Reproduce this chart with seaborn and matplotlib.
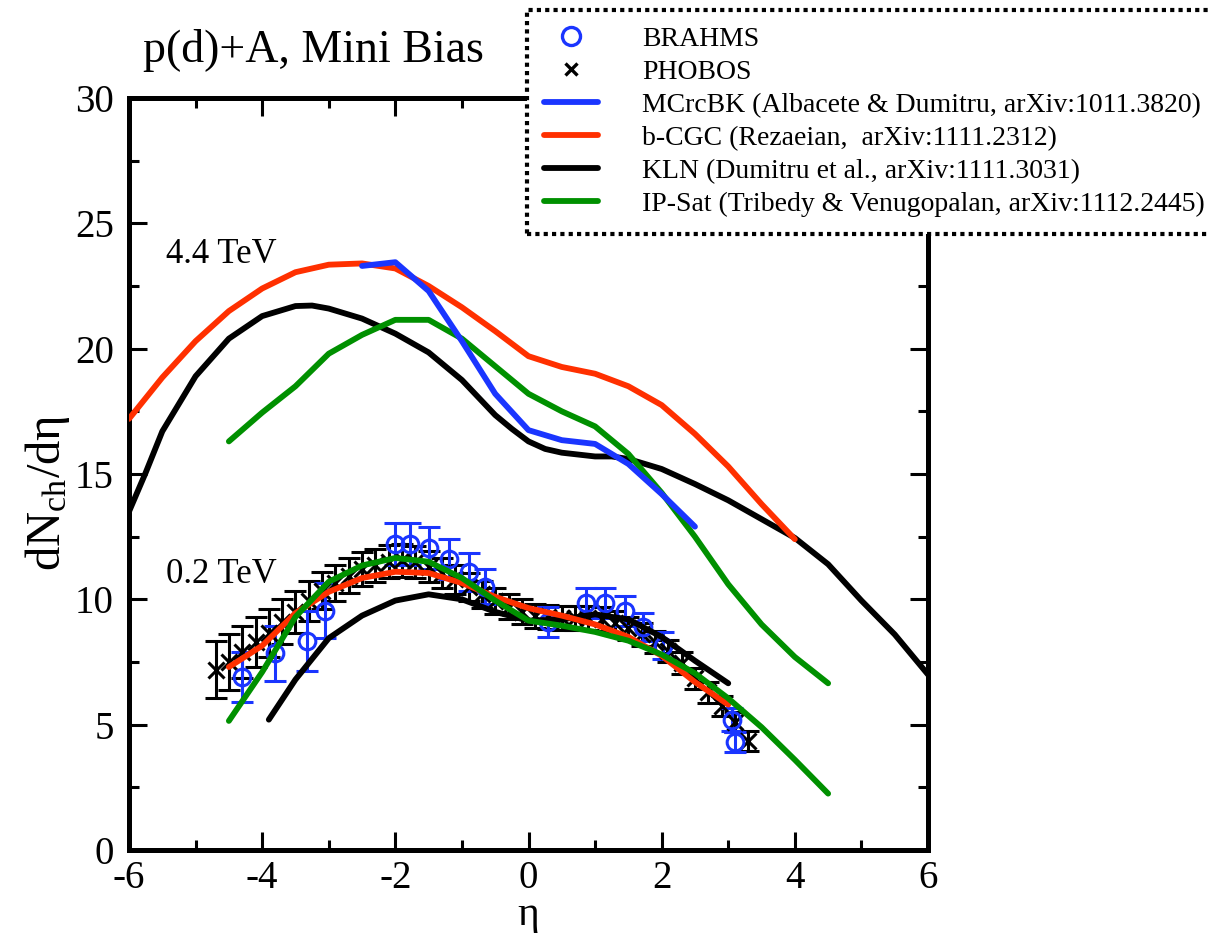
import numpy as np
import pandas as pd
import seaborn as sns
import matplotlib
matplotlib.use("Agg")
import matplotlib.pyplot as plt
from matplotlib.ticker import MultipleLocator
from matplotlib.lines import Line2D

# ---------------- data ----------------
# 4.4 TeV curves
eta_mcrcbk_44 = [-2.5, -2.0, -1.5, -1.0, -0.5, 0.0, 0.5, 1.0, 1.5, 2.0, 2.5]
val_mcrcbk_44 = [23.3, 23.45, 22.3, 20.3, 18.2, 16.75, 16.35, 16.2, 15.4, 14.2, 12.9]

eta_bcgc_44 = [-6.0, -5.5, -5.0, -4.5, -4.0, -3.5, -3.0, -2.5, -2.0, -1.5, -1.0,
               -0.5, 0.0, 0.5, 1.0, 1.5, 2.0, 2.5, 3.0, 3.5, 4.0]
val_bcgc_44 = [17.2, 18.85, 20.3, 21.5, 22.4, 23.05, 23.35, 23.4, 23.2, 22.5, 21.65,
               20.7, 19.7, 19.27, 19.0, 18.5, 17.75, 16.6, 15.3, 13.8, 12.4]

eta_kln_44 = [-6.0, -5.75, -5.5, -5.0, -4.5, -4.0, -3.5, -3.25, -3.0, -2.5, -2.0,
              -1.5, -1.0, -0.5, -0.25, 0.0, 0.25, 0.5, 1.0, 1.25, 1.5, 2.0, 2.5,
              3.0, 3.5, 4.0, 4.5, 5.0, 5.5, 6.0]
val_kln_44 = [13.5, 15.05, 16.7, 18.9, 20.4, 21.3, 21.7, 21.72, 21.6, 21.2, 20.6,
              19.85, 18.75, 17.35, 16.8, 16.3, 16.0, 15.85, 15.7, 15.7, 15.6, 15.2, 14.6,
              13.95, 13.2, 12.45, 11.4, 9.95, 8.6, 7.0]

eta_ipsat_44 = [-4.5, -4.0, -3.5, -3.0, -2.5, -2.0, -1.5, -1.0, -0.5, 0.0, 0.5,
                1.0, 1.5, 2.0, 2.5, 3.0, 3.5, 4.0, 4.5]
val_ipsat_44 = [16.3, 17.45, 18.5, 19.8, 20.55, 21.15, 21.15, 20.4, 19.3, 18.2, 17.5,
                16.9, 15.8, 14.25, 12.5, 10.6, 9.0, 7.7, 6.65]

# 0.2 TeV curves
eta_bcgc_02 = [-4.5, -4.0, -3.5, -3.0, -2.5, -2.0, -1.5, -1.0, -0.5, 0.0, 0.5,
               1.0, 1.5, 2.0, 2.5, 3.0]
val_bcgc_02 = [7.3, 8.15, 9.45, 10.3, 10.85, 11.1, 11.05, 10.65, 10.1, 9.65, 9.35,
               9.0, 8.5, 7.75, 6.7, 5.8]

eta_kln_02 = [-3.9, -3.5, -3.0, -2.5, -2.0, -1.5, -1.0, -0.5, 0.0, 0.5, 1.0,
              1.5, 2.0, 2.5, 3.0]
val_kln_02 = [5.2, 6.8, 8.45, 9.35, 9.95, 10.2, 10.0, 9.5, 9.15, 9.2, 9.4,
              9.2, 8.5, 7.55, 6.65]

eta_ipsat_02 = [-4.5, -4.0, -3.5, -3.0, -2.5, -2.0, -1.5, -1.0, -0.5, 0.0, 0.5,
                1.0, 1.5, 2.0, 2.5, 3.0, 3.5, 4.0, 4.5]
val_ipsat_02 = [5.15, 7.1, 9.3, 10.7, 11.35, 11.65, 11.5, 10.85, 9.95, 9.15, 8.95,
                8.7, 8.35, 7.8, 7.05, 6.05, 4.9, 3.6, 2.25]

# BRAHMS data
eta_brahms = [-4.3, -3.8, -3.33, -3.05, -2.0, -1.78, -1.5, -1.2, -0.9, -0.65,
              0.3, 0.87, 1.15, 1.45, 1.72, 2.02, 3.05, 3.1]
val_brahms = [6.9, 7.85, 8.35, 9.55, 12.2, 12.2, 12.05, 11.6, 11.1, 10.5,
              9.1, 9.85, 9.85, 9.55, 8.9, 8.15, 5.2, 4.3]
err_brahms = [1.0, 1.1, 1.2, 1.1, 0.85, 0.85, 0.85, 0.8, 0.75, 0.7,
              0.6, 0.6, 0.6, 0.6, 0.55, 0.55, 0.45, 0.4]

# PHOBOS data
eta_phobos = [-4.7, -4.5, -4.3, -4.1, -3.9, -3.7, -3.5, -3.3, -3.1, -2.9, -2.7,
              -2.5, -2.3, -2.1, -1.9, -1.7, -1.5, -1.3, -1.1, -0.9, -0.7, -0.5,
              -0.3, -0.1, 0.1, 0.3, 0.5, 0.7, 0.9, 1.1, 1.3, 1.5, 1.7, 1.9,
              2.1, 2.3, 2.5, 2.7, 2.9, 3.1, 3.3]
val_phobos = [7.2, 7.5, 7.9, 8.3, 8.65, 9.1, 9.5, 9.95, 10.35, 10.65, 10.95,
              11.2, 11.35, 11.5, 11.55, 11.5, 11.3, 11.05, 10.8, 10.5, 10.2, 9.95,
              9.7, 9.5, 9.35, 9.3, 9.25, 9.25, 9.25, 9.2, 9.05, 8.85, 8.6, 8.3,
              7.95, 7.45, 6.85, 6.3, 5.75, 5.1, 4.35]
err_phobos = [1.15, 1.1, 1.05, 1.0, 0.95, 0.9, 0.85, 0.8, 0.75, 0.72, 0.7,
              0.68, 0.66, 0.65, 0.65, 0.64, 0.62, 0.6, 0.58, 0.56, 0.54, 0.52,
              0.5, 0.5, 0.48, 0.48, 0.48, 0.48, 0.48, 0.48, 0.47, 0.46, 0.45, 0.45,
              0.44, 0.43, 0.42, 0.42, 0.41, 0.4, 0.4]

legend_labels = ["BRAHMS", "PHOBOS",
                 "MCrcBK (Albacete & Dumitru, arXiv:1011.3820)",
                 "b-CGC (Rezaeian,  arXiv:1111.2312)",
                 "KLN (Dumitru et al., arXiv:1111.3031)",
                 "IP-Sat (Tribedy & Venugopalan, arXiv:1112.2445)"]

# ---------------- style ----------------
sns.set_style("ticks")
plt.rcParams['font.family'] = ['Liberation Serif', 'DejaVu Serif']
plt.rcParams['mathtext.fontset'] = 'custom'
plt.rcParams['mathtext.rm'] = 'Liberation Serif'
plt.rcParams['mathtext.it'] = 'Liberation Serif'
plt.rcParams['axes.unicode_minus'] = False
for k in ['text.color', 'axes.labelcolor', 'axes.edgecolor', 'xtick.color', 'ytick.color']:
    plt.rcParams[k] = 'black'

BLUE = '#1a35ff'
RED = '#ff3000'
GREEN = '#009000'
BLACK = '#000000'
LW = 4.2

fig = plt.figure(figsize=(12.09, 9.33), dpi=100)
ax = fig.add_axes([129/1209, 1 - 850/933, (928-129)/1209, (850-98)/933])

# data points
ax.errorbar(eta_phobos, val_phobos, yerr=err_phobos, fmt='x', color=BLACK,
            ms=11, mew=2.2, elinewidth=2.2, capsize=8, capthick=2.2, zorder=2)
ax.errorbar(eta_brahms, val_brahms, yerr=err_brahms, fmt='o', color=BLUE,
            mfc='none', ms=12, mew=2.2, elinewidth=2.2, capsize=8, capthick=2.2, zorder=2)

def curve(x, y, c):
    df = pd.DataFrame({'eta': x, 'val': y})
    sns.lineplot(data=df, x='eta', y='val', color=c, lw=LW, sort=False,
                 estimator=None, ax=ax, zorder=3)

curve(eta_kln_44, val_kln_44, BLACK)
curve(eta_bcgc_44, val_bcgc_44, RED)
curve(eta_ipsat_44, val_ipsat_44, GREEN)
curve(eta_mcrcbk_44, val_mcrcbk_44, BLUE)
curve(eta_kln_02, val_kln_02, BLACK)
curve(eta_bcgc_02, val_bcgc_02, RED)
curve(eta_ipsat_02, val_ipsat_02, GREEN)

ax.set_xlim(-6, 6)
ax.set_ylim(0, 30)
ax.xaxis.set_major_locator(MultipleLocator(2))
ax.xaxis.set_minor_locator(MultipleLocator(1))
ax.yaxis.set_major_locator(MultipleLocator(5))
ax.yaxis.set_minor_locator(MultipleLocator(2.5))
ax.tick_params(which='both', direction='in', top=True, right=True, width=2.2,
               labelsize=28, color='black', labelcolor='black')
ax.tick_params(axis='x', pad=7)
ax.tick_params(axis='y', pad=11)
ax.tick_params(which='major', length=13)
ax.tick_params(which='minor', length=7)
for s in ax.spines.values():
    s.set_linewidth(3.6)
    s.set_color('black')
    s.set_visible(True)

ax.set_xlabel('η', fontsize=30, color='black')
ax.xaxis.set_label_coords(0.5, -(915 - 850) / 752, transform=ax.transAxes)
ax.xaxis.label.set_va('center')
ax.set_ylabel(r'dN$_{\mathrm{ch}}$/dη', fontsize=35, color='black')
ax.yaxis.set_label_coords(-(129 - 47) / 799, (850 - 493) / 752, transform=ax.transAxes)
ax.yaxis.label.set_va('center')

ax.text(-5.45, 23.75, '4.4 TeV', fontsize=25, va='center', ha='left', color='black')
ax.text(-5.45, 11.0, '0.2 TeV', fontsize=25, va='center', ha='left', color='black')
fig.text(143/1209, 1 - 50/933, 'p(d)+A, Mini Bias', fontsize=33, va='center',
         ha='left', color='black')

handles = [
    Line2D([], [], ls='none', marker='o', mfc='none', mec=BLUE, ms=13, mew=2.4),
    Line2D([], [], ls='none', marker='x', color=BLACK, ms=9, mew=2.4),
    Line2D([], [], color=BLUE, lw=LW),
    Line2D([], [], color=RED, lw=LW),
    Line2D([], [], color=BLACK, lw=LW),
    Line2D([], [], color=GREEN, lw=LW),
]
leg = fig.legend(handles, legend_labels, loc='upper left',
                 bbox_to_anchor=(527/1209, 1 - 10/933), bbox_transform=fig.transFigure,
                 fontsize=20, frameon=True, fancybox=False, handlelength=1.95,
                 handletextpad=1.6, labelspacing=0.27, borderpad=0.6,
                 borderaxespad=0, labelcolor='black')
fr = leg.get_frame()
fr.set_edgecolor('black')
fr.set_linewidth(3.0)
fr.set_linestyle((0, (1, 1)))
fr.set_alpha(1)

fig.savefig('out.png', dpi=100)
